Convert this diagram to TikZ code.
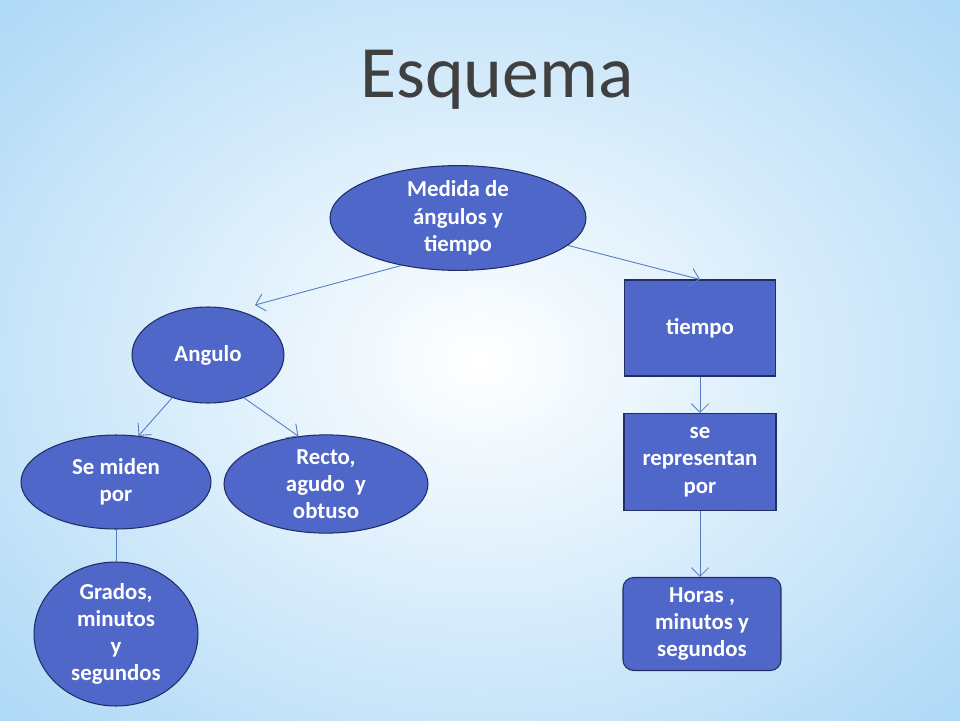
\documentclass[tikz,border=0pt]{standalone}
\usepackage{fontspec}
\setmainfont{Carlito}
\usetikzlibrary{arrows.meta,shapes.geometric,positioning}
\definecolor{nodeblue}{RGB}{79, 103, 200}
\definecolor{nodeline}{RGB}{32, 46, 100}
\definecolor{linkblue}{RGB}{84, 124, 196}
\definecolor{skyblue}{RGB}{160, 210, 245}
\definecolor{titlegray}{RGB}{64, 64, 64}
\begin{document}
\begin{tikzpicture}[x=0.02cm,y=-0.02cm,
	oval/.style={ellipse,draw=nodeline,fill=nodeblue,line width=0.6pt,text=white,font=\bfseries\fontsize{13}{15.5}\selectfont,align=center,inner sep=0pt},
	box/.style={rectangle,draw=nodeline,fill=nodeblue,line width=0.6pt,text=white,font=\bfseries\fontsize{13}{15.5}\selectfont,align=center,inner sep=0pt},
	link/.style={draw=linkblue,line width=0.5pt,-{Straight Barb[length=5pt]}}]
	% background
	\useasboundingbox (0,0) rectangle (960,720);
	\shade[inner color=white,outer color=skyblue] (-300,-250) rectangle (1260,970);
	\node[text=titlegray,font=\fontsize{42}{46}\selectfont] (title) at (497,80) {Esquema};

	% nodes
	\node[oval,minimum width=5.12cm,minimum height=1.92cm] (medida) at (458,218) {Medida de\\ángulos y\\tiempo};
	\node[oval,minimum width=3.04cm,minimum height=1.92cm] (angulo) at (208,355) {Angulo};
	\node[oval,minimum width=3.8cm,minimum height=1.88cm] (miden) at (116,482) {Se miden\\por};
	\node[oval,minimum width=4.08cm,minimum height=1.88cm] (recto) at (326,484) {Recto,\\agudo~ y\\obtuso};
	\node[oval,minimum width=3.28cm,minimum height=2.88cm] (grados) at (116,634) {Grados,\\minutos\\y\\segundos};
	\node[box,minimum width=3.02cm,minimum height=1.92cm] (tiempo) at (700,328) {tiempo};
	\node[box,minimum width=3.04cm,minimum height=1.94cm] (repr) at (700,462) {se\\representan\\por};
	\node[box,rounded corners=6pt,minimum width=3.16cm,minimum height=1.86cm] (horas) at (702,624) {Horas ,\\minutos y\\segundos};

	% connectors
	\coordinate (angtop) at (255,305);
	\draw[link] (medida.220) -- (angtop);
	\draw[link] (medida.-14) -- (tiempo.north);
	\draw[link] (angulo.230) -- (miden.64);
	\draw[link] (angulo.-50) -- (recto.120);
	\draw[draw=linkblue,line width=0.5pt] (miden.south) -- (grados.north);
	\draw[link] (tiempo.south) -- (repr.north);
	\draw[link] (repr.south) -- (horas.north -| repr.south);
\end{tikzpicture}
\end{document}
